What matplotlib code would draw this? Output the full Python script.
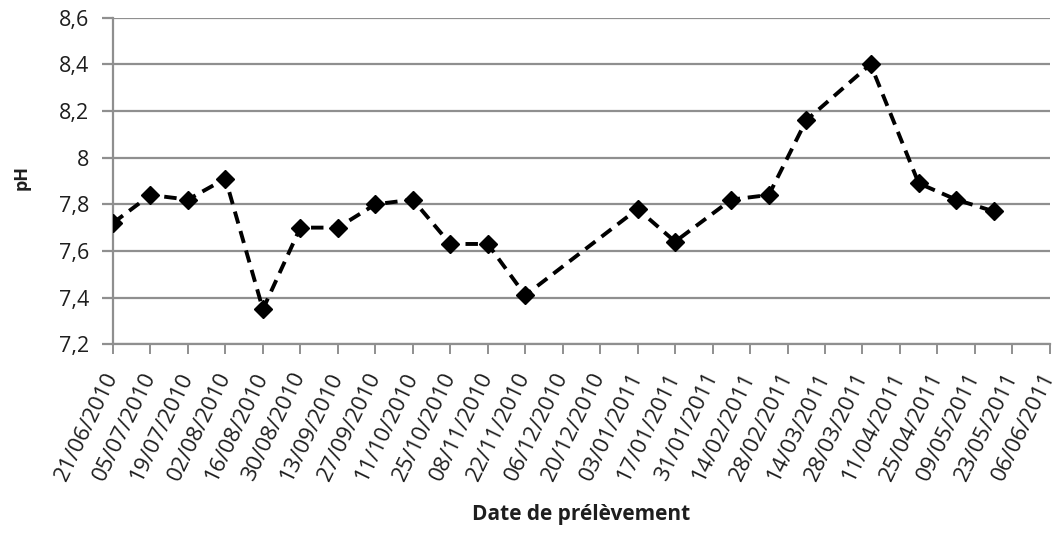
import matplotlib
matplotlib.use("Agg")
import matplotlib.pyplot as plt
import matplotlib.dates as mdates
from matplotlib.ticker import FuncFormatter, MultipleLocator
from datetime import datetime, timedelta

# Sampling dates and measured pH
dates = ["21/06/2010", "05/07/2010", "19/07/2010", "02/08/2010", "16/08/2010",
         "30/08/2010", "13/09/2010", "27/09/2010", "11/10/2010", "25/10/2010",
         "08/11/2010", "22/11/2010", "03/01/2011", "17/01/2011", "07/02/2011",
         "21/02/2011", "07/03/2011", "31/03/2011", "18/04/2011", "02/05/2011",
         "16/05/2011"]
ph = [7.72, 7.84, 7.82, 7.91, 7.35, 7.70, 7.70, 7.80, 7.82, 7.63, 7.63, 7.41,
      7.78, 7.64, 7.82, 7.84, 8.16, 8.40, 7.89, 7.82, 7.77]

x_start = "21/06/2010"
x_end = "06/06/2011"
tick_step_days = 14
y_min, y_max, y_step = 7.2, 8.6, 0.2

plt.rcParams["font.family"] = ["Open Sans", "DejaVu Sans"]

to_dt = lambda s: datetime.strptime(s, "%d/%m/%Y")
xs = [to_dt(d) for d in dates]
t0, t1 = to_dt(x_start), to_dt(x_end)
ticks = []
t = t0
while t <= t1:
    ticks.append(t)
    t += timedelta(days=tick_step_days)

fig = plt.figure(figsize=(10.61, 5.33), dpi=100)
ax = fig.add_axes([0.1065, 0.354, 0.883, 0.613])

grid_c = "#8f8f8f"
text_c = "#1e1e1e"
ax.set_ylim(y_min, y_max)
ax.yaxis.set_major_locator(MultipleLocator(y_step))
ax.yaxis.grid(True, color=grid_c, lw=1.6)
ax.set_axisbelow(True)

ax.plot(xs, ph, color="black", lw=2.8, linestyle=(0, (3.2, 2.0)),
        marker="D", markersize=9, markerfacecolor="black",
        markeredgecolor="black", zorder=3)

ax.set_xlim(mdates.date2num(t0), mdates.date2num(t1))
ax.set_xticks(ticks)
ax.set_xticklabels([d.strftime("%d/%m/%Y") for d in ticks], rotation=64,
                   ha="right", va="center", rotation_mode="anchor",
                   fontsize=16)

def comma_fmt(v, pos):
    s = f"{v:.1f}"
    if s.endswith(".0"):
        s = s[:-2]
    return s.replace(".", ",")

ax.yaxis.set_major_formatter(FuncFormatter(comma_fmt))
ax.tick_params(axis="y", labelsize=15.5, length=8, width=1.6, color=grid_c,
               pad=9, labelcolor=text_c)
ax.tick_params(axis="x", length=7, width=1.4, color=grid_c, pad=14,
               labelcolor=text_c)

for side in ("top", "right"):
    ax.spines[side].set_visible(False)
for side in ("left", "bottom"):
    ax.spines[side].set_color(grid_c)
    ax.spines[side].set_linewidth(1.6)

ax.set_ylabel("pH", fontsize=13, fontweight="bold", color=text_c)
ax.yaxis.set_label_coords(-0.088, 0.51)
ax.set_xlabel("Date de prélèvement", fontsize=15, fontweight="bold",
              color=text_c)
ax.xaxis.set_label_coords(0.5, -0.49)

fig.savefig("out.png", dpi=100)
